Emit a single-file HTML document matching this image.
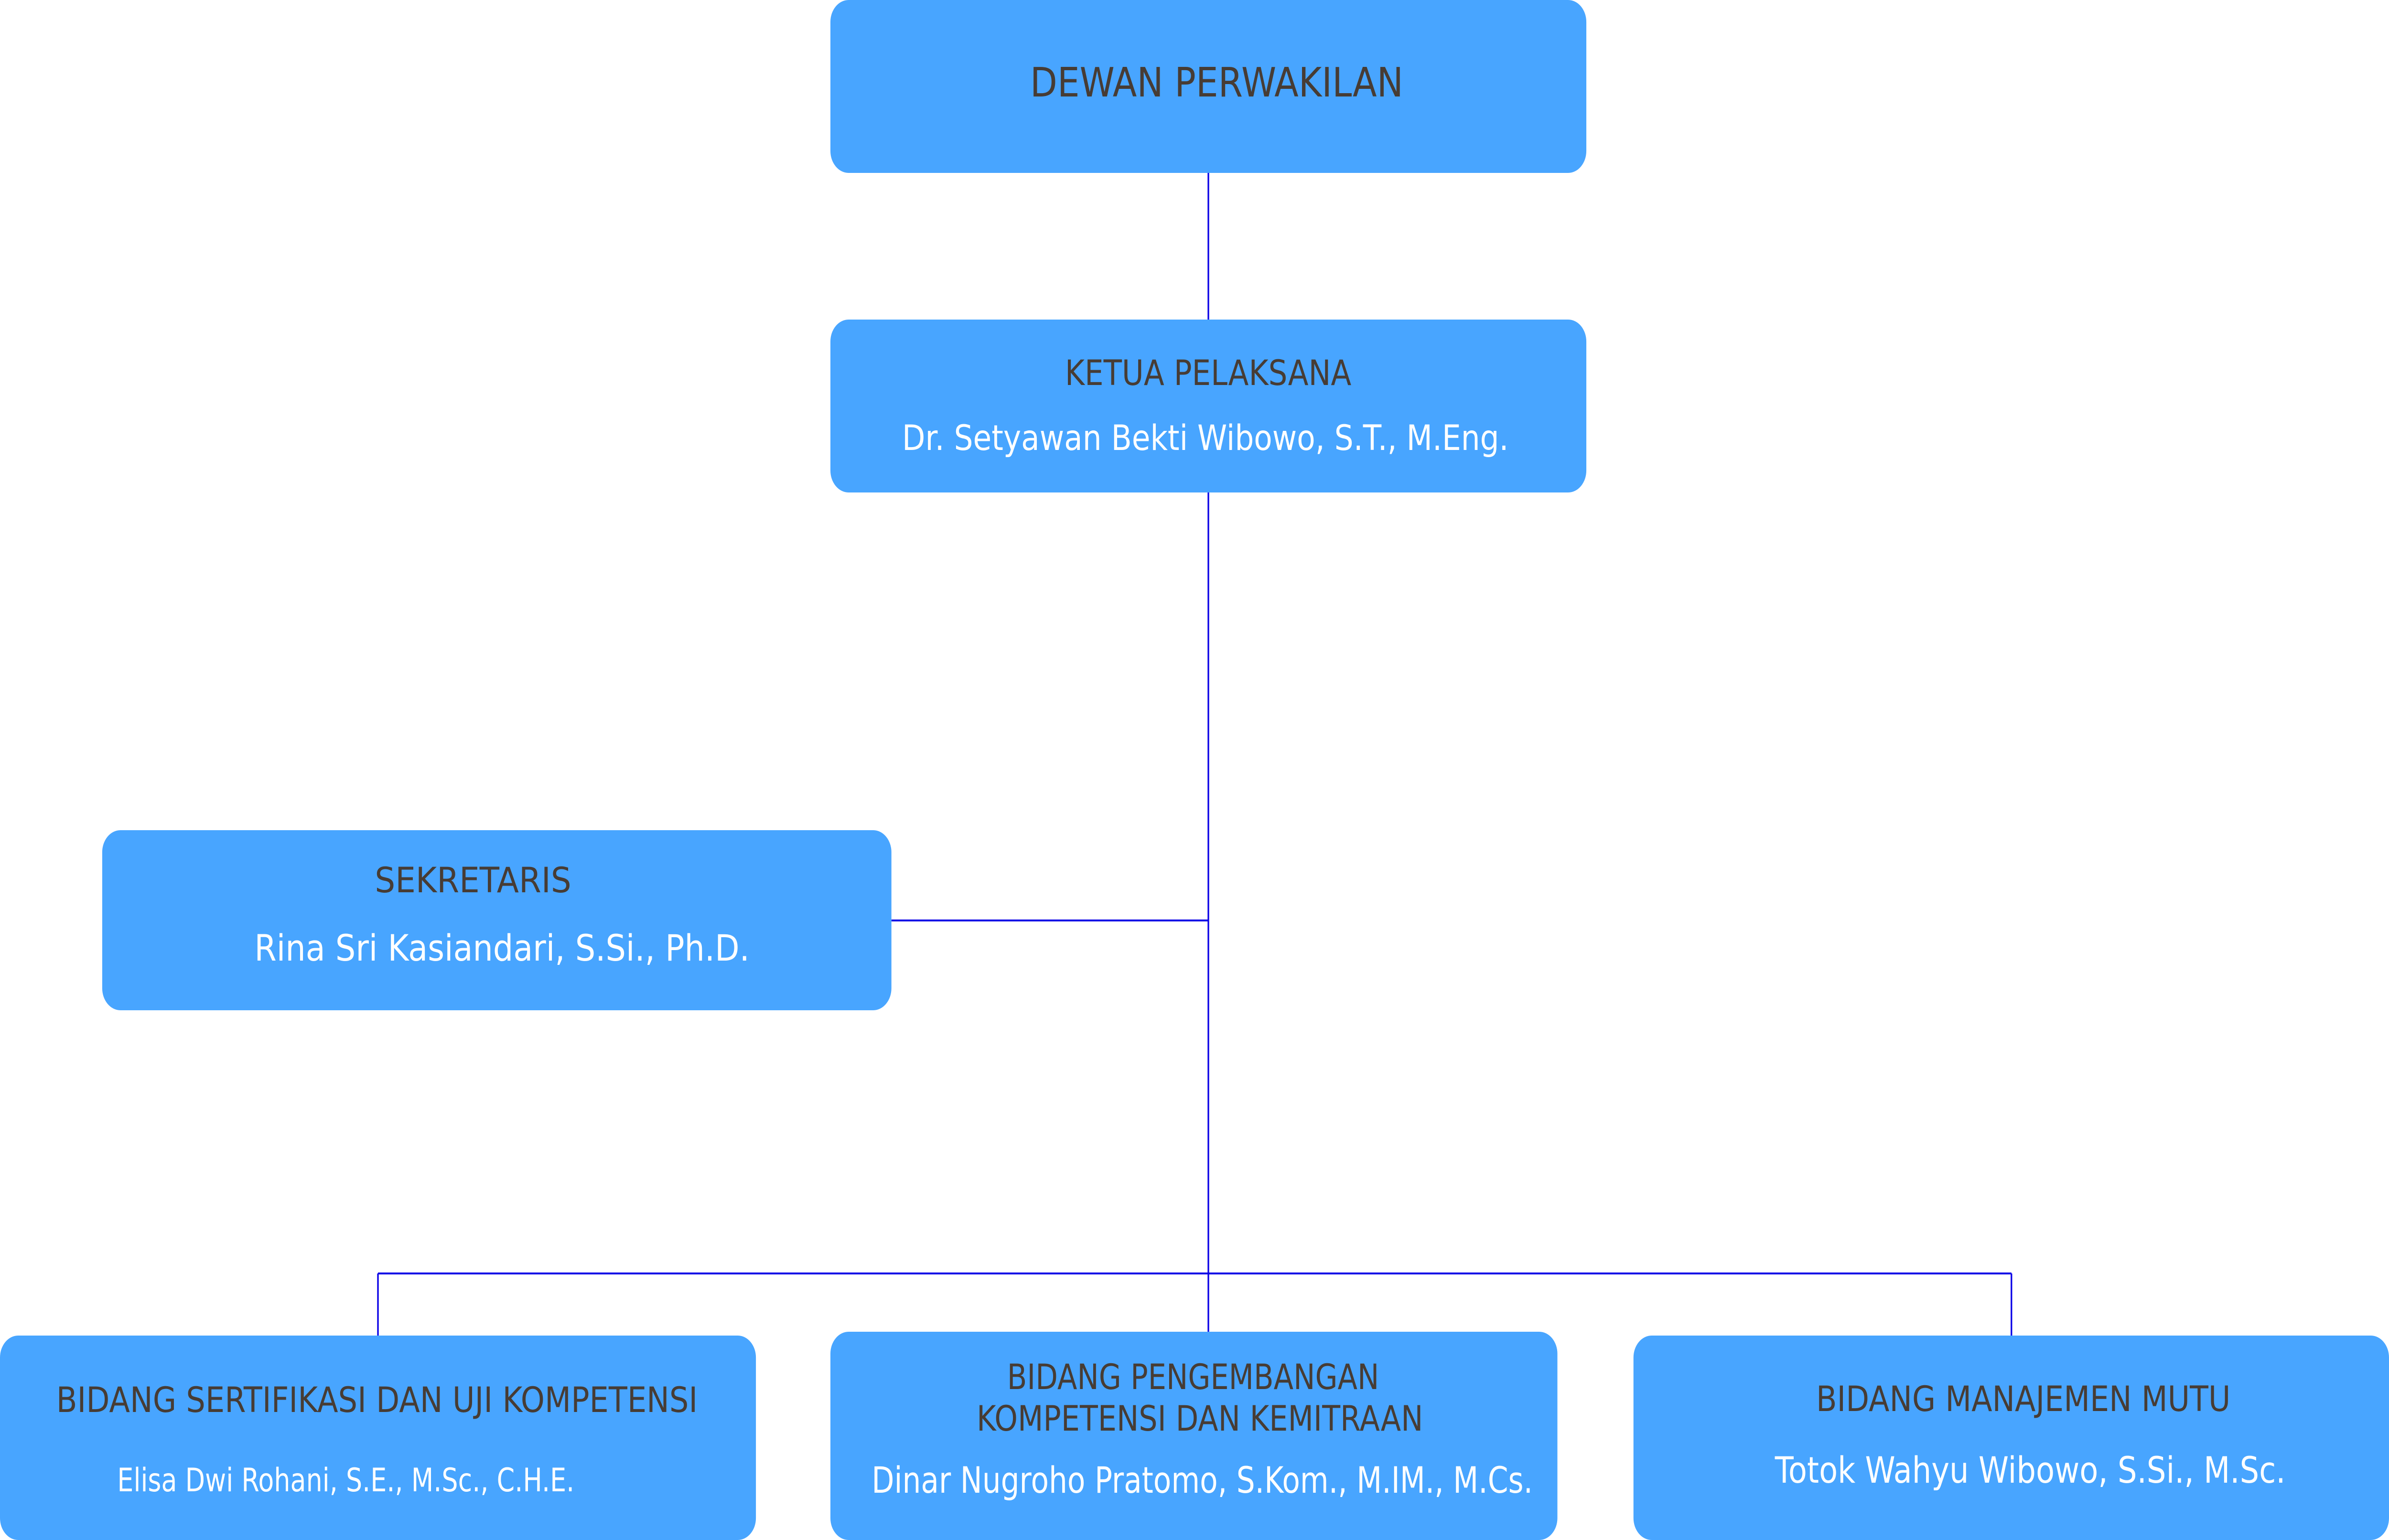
<!DOCTYPE html>
<html><head><meta charset="utf-8"><style>
html,body{margin:0;padding:0;background:#fff;overflow:hidden;width:100%;height:100%;}
svg{display:block;width:100vw;height:100vh;}
text{font-family:"DejaVu Sans","Liberation Sans",sans-serif;}
.t{fill:#473c34;}
.n{fill:#ffffff;}
</style></head><body>
<svg viewBox="0 0 6030 3224" preserveAspectRatio="none" xmlns="http://www.w3.org/2000/svg">
<g stroke="#0a00e6" stroke-width="4" fill="none">
<line x1="3050" y1="362" x2="3050" y2="669"/>
<line x1="3050" y1="1031" x2="3050" y2="2788"/>
<line x1="2250" y1="1927" x2="3050" y2="1927"/>
<line x1="954" y1="2666" x2="5077" y2="2666"/>
<line x1="954" y1="2666" x2="954" y2="2796"/>
<line x1="5077" y1="2666" x2="5077" y2="2796"/>
</g>
<g fill="#48a5ff">
<rect x="2096" y="0" width="1908" height="362" rx="46"/>
<rect x="2096" y="669" width="1908" height="362" rx="46"/>
<rect x="258" y="1738" width="1992" height="377" rx="46"/>
<rect x="0" y="2796" width="1908" height="428" rx="46"/>
<rect x="2096" y="2788" width="1835" height="436" rx="46"/>
<rect x="4123" y="2796" width="1907" height="428" rx="46"/>
</g>
<text class="t" x="2600" y="202" font-size="85" textLength="942" lengthAdjust="spacingAndGlyphs">DEWAN PERWAKILAN</text>
<text class="t" x="2688" y="806" font-size="73" textLength="723" lengthAdjust="spacingAndGlyphs">KETUA PELAKSANA</text>
<text class="n" x="2277" y="942" font-size="73" textLength="1531" lengthAdjust="spacingAndGlyphs">Dr. Setyawan Bekti Wibowo, S.T., M.Eng.</text>
<text class="t" x="946" y="1868" font-size="73" textLength="496" lengthAdjust="spacingAndGlyphs">SEKRETARIS</text>
<text class="n" x="642" y="2011" font-size="76" textLength="1250" lengthAdjust="spacingAndGlyphs">Rina Sri Kasiandari, S.Si., Ph.D.</text>
<text class="t" x="142" y="2956" font-size="73" textLength="1619" lengthAdjust="spacingAndGlyphs">BIDANG SERTIFIKASI DAN UJI KOMPETENSI</text>
<text class="n" x="296" y="3122" font-size="68" textLength="1154" lengthAdjust="spacingAndGlyphs">Elisa Dwi Rohani, S.E., M.Sc., C.H.E.</text>
<text class="t" x="2542" y="2908" font-size="73" textLength="939" lengthAdjust="spacingAndGlyphs">BIDANG PENGEMBANGAN</text>
<text class="t" x="2465" y="2995" font-size="73" textLength="1127" lengthAdjust="spacingAndGlyphs">KOMPETENSI DAN KEMITRAAN</text>
<text class="n" x="2200" y="3125" font-size="76" textLength="1669" lengthAdjust="spacingAndGlyphs">Dinar Nugroho Pratomo, S.Kom., M.IM., M.Cs.</text>
<text class="t" x="4584" y="2954" font-size="73" textLength="1046" lengthAdjust="spacingAndGlyphs">BIDANG MANAJEMEN MUTU</text>
<text class="n" x="4480" y="3104" font-size="76" textLength="1289" lengthAdjust="spacingAndGlyphs">Totok Wahyu Wibowo, S.Si., M.Sc.</text>
</svg>
</body></html>
